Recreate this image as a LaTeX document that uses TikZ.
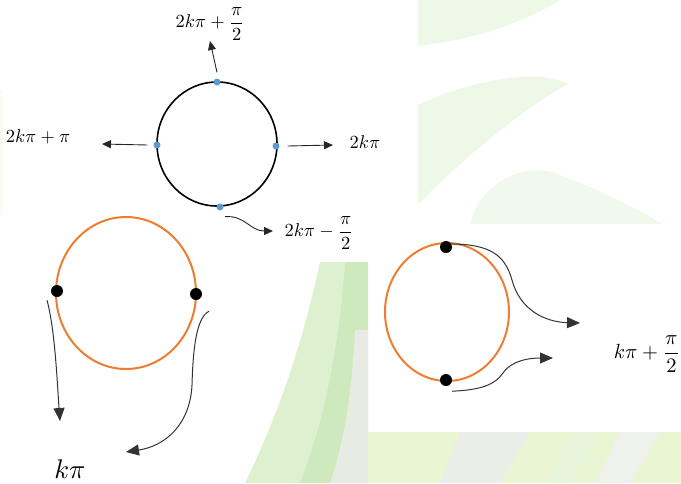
\RequirePackage{fix-cm}
\documentclass[tikz,border=0pt]{standalone}
\usepackage{amsmath, amssymb}
\usepackage{tikz}
\usetikzlibrary{arrows.meta, positioning, calc}
\definecolor{circorange}{HTML}{ED7D31}
\definecolor{dotblue}{HTML}{5B9BD5}
\definecolor{leafgreen}{HTML}{DDF0CF}
\definecolor{leafdeep}{HTML}{CFE9BF}
\definecolor{leafyellow}{HTML}{E9F5D3}
\definecolor{leafgray}{HTML}{D6DDD0}
\tikzset{
	bluedot/.style={circle, fill=dotblue, inner sep=0pt, minimum size=7pt},
	blackdot/.style={circle, fill=black, inner sep=0pt, minimum size=12pt},
	smallarr/.style={-{Triangle[length=9pt,width=8pt]}, line width=0.9pt, black!85},
	bigarr/.style={-{Triangle[length=13pt,width=11pt]}, line width=1pt, black!80},
	smalllab/.style={inner sep=0pt, scale=1.85, transform shape},
	biglab/.style={inner sep=0pt, scale=#1, transform shape},
}

\begin{document}
\begin{tikzpicture}[x=1pt, y=-1pt]
	\useasboundingbox (0,0) rectangle (681,483);
	% background leaves
	\fill[leafgreen!50] (418,0) -- (560,0) .. controls (520,25) and (470,40) .. (418,46) -- cycle;
	\fill[leafgreen!50] (418,105) .. controls (470,80) and (540,68) .. (568,84) .. controls (520,110) and (450,170) .. (418,205) -- cycle;
	\fill[leafgreen!40] (470,224) .. controls (480,180) and (530,160) .. (560,175) .. controls (600,190) and (640,210) .. (662,224) -- cycle;
	\fill[leafgreen!20] (0,90) rectangle (3,215);
	\fill[leafgreen] (225,262) rectangle (368,483);
	\fill[white] (225,262) -- (320,262) .. controls (305,330) and (285,400) .. (245,483) -- (225,483) -- cycle;
	\fill[leafdeep] (345,262) -- (368,262) -- (368,483) -- (300,483) .. controls (325,420) and (340,340) .. (345,262);
	\fill[leafgray!60] (355,330) -- (368,330) -- (368,483) -- (330,483) .. controls (345,440) and (352,390) .. (355,330);
	\fill[leafyellow] (368,432) rectangle (681,483);
	\fill[leafgray!50] (460,432) -- (530,432) -- (500,483) -- (440,483) -- cycle;
	\fill[leafgreen!70] (575,432) -- (600,432) -- (570,483) -- (545,483) -- cycle;
	\fill[leafgray!40] (620,432) -- (660,432) -- (630,483) -- (595,483) -- cycle;

	% top circle
	\draw[line width=1.6pt] (217,144) ellipse [x radius=60, y radius=62];
	\node[bluedot] (up) at (217,82) {};
	\node[bluedot] (lft) at (157,145) {};
	\node[bluedot] (rgt) at (276,146) {};
	\node[bluedot] (dwn) at (220,207) {};
	\node[smalllab] (uplab) at (210,24) {$2k\pi+\dfrac{\pi}{2}$};
	\node[smalllab] (lftlab) at (38,137) {$2k\pi+\pi$};
	\node[smalllab] (rgtlab) at (365,142) {$2k\pi$};
	\node[smalllab] (dwnlab) at (319,233) {$2k\pi-\dfrac{\pi}{2}$};
	\coordinate (uptip) at (210,41);
	\coordinate (lfttip) at (102,144);
	\coordinate (rgttip) at (333,145);
	\coordinate (dwntip) at (273,231);
	\draw[smallarr] ([yshift=6pt]up.north) -- (uptip);
	\draw[smallarr] ([xshift=-6pt]lft.west) -- (lfttip);
	\draw[smallarr] ([xshift=8pt]rgt.east) -- (rgttip);
	\draw[smallarr] ([xshift=5pt,yshift=-6pt]dwn.south) .. controls (245,215) and (250,231) .. (dwntip);

	% bottom left circle
	\draw[circorange, line width=2pt] (126,293) ellipse [x radius=70, y radius=76];
	\node[blackdot] (kl) at (57,291) {};
	\node[blackdot] (kr) at (196,294) {};
	\node[biglab=2.7] (klab) at (70,469) {$k\pi$};
	\coordinate (kltip) at (60,421);
	\coordinate (krtip) at (126,452);
	\draw[bigarr] ([xshift=-10pt,yshift=-3pt]kl.south) .. controls (55,330) and (57,380) .. (kltip);
	\draw[bigarr] ([xshift=13pt,yshift=-11pt]kr.south) .. controls (196,318) and (193,350) .. (192,385) .. controls (190,425) and (165,446) .. (krtip);

	% right circle
	\draw[circorange, line width=2pt] (447,312) ellipse [x radius=62, y radius=69];
	\node[blackdot] (ku) at (446,247) {};
	\node[blackdot] (kd) at (446,380) {};
	\node[biglab=2.05] (kulab) at (647,354) {$k\pi+\dfrac{\pi}{2}$};
	\coordinate (kutip) at (580,323);
	\coordinate (kdtip) at (553,358);
	\draw[bigarr] ([xshift=-2pt,yshift=3pt]ku.east) .. controls (490,244) and (505,255) .. (512,280) .. controls (520,310) and (545,322) .. (kutip);
	\draw[bigarr] ([xshift=6pt,yshift=-5pt]kd.south) .. controls (480,390) and (495,385) .. (503,373) .. controls (512,360) and (530,358) .. (kdtip);
\end{tikzpicture}
\end{document}
